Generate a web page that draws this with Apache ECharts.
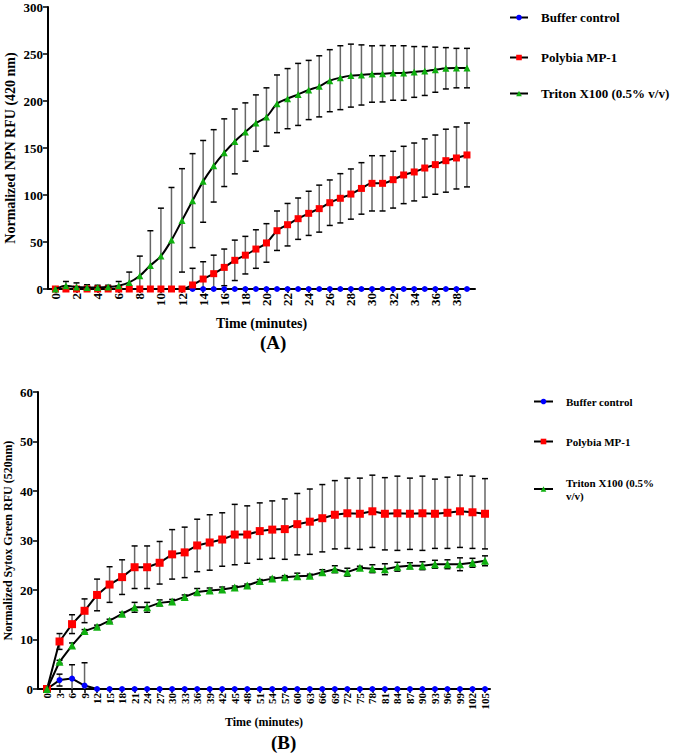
<!DOCTYPE html>
<html><head><meta charset="utf-8">
<script src="https://cdn.jsdelivr.net/npm/echarts@6/dist/echarts.min.js"></script>
<style>html,body{margin:0;padding:0;background:#fff}#c{width:685px;height:755px}</style>
</head><body><div id="c"></div>
<script>
// ---------- Panel A (NPN uptake) ----------
const timeA = [0,1,2,3,4,5,6,7,8,9,10,11,12,13,14,15,16,17,18,19,20,21,22,23,24,25,26,27,28,29,30,31,32,33,34,35,36,37,38,39];
const xTicksA = [0,2,4,6,8,10,12,14,16,18,20,22,24,26,28,30,32,34,36,38];
const bufferA = [0,0,0,0,0,0,0,0,0,0,0,0,0,0,0,0,0,0,0,0,0,0,0,0,0,0,0,0,0,0,0,0,0,0,0,0,0,0,0,0];
const bufferA_sd = [0,0,0,0,0,0,0,0,0,0,0,0,0,0,0,0,0,0,0,0,0,0,0,0,0,0,0,0,0,0,0,0,0,0,0,0,0,0,0,0];
const polybiaA = [0,0,0,0,0,0,0,0,0,0,0,0,0,4.3,10.6,16.3,23,30.5,36,42.5,49,62,68.4,74.8,80.5,85.5,91.8,96.5,101,107,112.4,112.4,116.3,121.3,124.5,128.7,132.3,136.5,139.4,142.6];
const polybiaA_sd = [0,0,0,0,0,0,0,0,0,0,0,0,0,17.7,18.4,19.7,19.5,21.5,20,20.5,20.5,21,22.6,22,23.5,25,24.2,26.2,26.7,27.4,29.4,29.4,30.2,30.5,30.8,31,31.5,33.5,33,34];
const tritonA = [0,3.5,2,1.5,1.5,2,3.5,7,14,25,35,52,73,94,114.5,131,145,157,167,176.5,183,197,202.5,207,211.7,215.6,221.6,224.8,227,227.7,228.7,229,229.8,229.8,230.9,231.9,233.3,234.8,235,235];
const tritonA_sd = [0,4.5,4.5,3,2.5,2,4.5,11,21,37,51,56,55,50,43.5,38.5,36,34.5,31,30,31,30.7,32,33,31.5,32.5,33,34,33.5,32,30,30,29,29,27,26,24,22,21,21];

// ---------- Panel B (Sytox Green uptake) ----------
const timeB = [0,3,6,9,12,15,18,21,24,27,30,33,36,39,42,45,48,51,54,57,60,63,66,69,72,75,78,81,84,87,90,93,96,99,102,105];
const xTicksB = [0,3,6,9,12,15,18,21,24,27,30,33,36,39,42,45,48,51,54,57,60,63,66,69,72,75,78,81,84,87,90,93,96,99,102,105];
const bufferB = [0,1.8,2.1,0.7,0,0,0,0,0,0,0,0,0,0,0,0,0,0,0,0,0,0,0,0,0,0,0,0,0,0,0,0,0,0,0,0];
const bufferB_sd = [0,1.2,2.8,4.6,0,0,0,0,0,0,0,0,0,0,0,0,0,0,0,0,0,0,0,0,0,0,0,0,0,0,0,0,0,0,0,0];
const polybiaB = [0,9.6,13.1,15.8,19,21.1,22.6,24.6,24.6,25.5,27.2,27.6,29,29.6,30.2,31.2,31.2,31.9,32.2,32.3,33.3,33.8,34.5,35.2,35.5,35.4,35.9,35.4,35.5,35.4,35.5,35.4,35.6,35.9,35.7,35.4];
const polybiaB_sd = [0,1.6,1.9,2.4,3.2,3.6,3.5,4.3,4.3,4.3,5.0,5.1,5.3,5.6,5.4,6.1,5.8,5.7,5.8,6.1,6.2,6.6,6.8,6.9,7.1,7.2,7.3,7.3,7.5,7.2,7.5,7.0,7.2,7.3,7.3,7.1];
const tritonB = [0,5.5,8.8,11.7,12.6,13.8,15.2,16.5,16.5,17.4,17.7,18.6,19.6,19.9,20.1,20.5,20.9,21.8,22.3,22.6,22.8,22.9,23.6,24.2,23.6,24.5,24.3,24.2,24.7,24.9,24.9,25.2,25.2,25.2,25.5,25.9];
const tritonB_sd = [0,0.3,0.5,0.3,0.3,0.3,0.3,1.0,1.0,0.6,0.4,0.4,0.7,0.5,0.5,0.3,0.3,0.3,0.3,0.3,0.6,0.3,0.5,0.7,0.8,0.3,0.8,1.1,0.9,0.6,0.8,0.8,0.9,1.3,0.9,1.0];

const names = ['Buffer control','Polybia MP-1','Triton X100 (0.5% v/v)'];
const colors = ['#0000ff','#ff0000','#10b010'];
const symbols = ['circle','rect','triangle'];
const FONT = "'Liberation Serif','Times New Roman',serif";

function errRender(params, api){
  const x = api.value(0), lo = api.value(1), hi = api.value(2);
  if (!(hi - lo > 0)) return null;
  const p1 = api.coord([x, hi]), p2 = api.coord([x, lo]);
  const w = 3;
  return {type:'group', children:[
    {type:'line', shape:{x1:p1[0],y1:p1[1],x2:p2[0],y2:p2[1]}, style:{stroke:'#666', lineWidth:1.5}},
    {type:'line', shape:{x1:p1[0]-w,y1:p1[1],x2:p1[0]+w,y2:p1[1]}, style:{stroke:'#000', lineWidth:1.5}},
    {type:'line', shape:{x1:p2[0]-w,y1:p2[1],x2:p2[0]+w,y2:p2[1]}, style:{stroke:'#000', lineWidth:1.5}}
  ]};
}

function errSeries(gi, t, v, sd){
  return {type:'custom', xAxisIndex:gi, yAxisIndex:gi, clip:true, z:1, silent:true,
    renderItem: errRender, encode:{x:0, y:[1,2]},
    data: t.map((x,i)=>[x, v[i]-sd[i], v[i]+sd[i]])};
}
function lineSeries(gi, k, t, v, smooth, sizes){
  return {type:'line', name:names[k], xAxisIndex:gi, yAxisIndex:gi, z:2+k,
    symbol:symbols[k], symbolSize:sizes[k], smooth:smooth,
    itemStyle:{color:colors[k]}, lineStyle:{color:'#000', width:2},
    data: t.map((x,i)=>[x, v[i]])};
}

const axisLineStyle = {show:true, onZero:false, lineStyle:{color:'#000', width:2}};
const tickStyle = {color:'#000', width:1.5};

function xAxisDef(gi, min, max, ticks, fs, nameFs, gap){
  return {type:'value', gridIndex:gi, min:min, max:max,
    axisLine:axisLineStyle,
    axisTick:{show:true, customValues:ticks, length:4, lineStyle:tickStyle},
    axisLabel:{customValues:ticks, rotate:90, fontSize:fs, fontWeight:'bold', fontFamily:FONT, color:'#000', margin:4},
    splitLine:{show:false},
    name:'Time (minutes)', nameLocation:'middle', nameGap:gap,
    nameTextStyle:{fontSize:nameFs, fontWeight:'bold', fontFamily:FONT, color:'#000'}};
}
function yAxisDef(gi, max, interval, name, fs, nameFs, gap){
  return {type:'value', gridIndex:gi, min:0, max:max, interval:interval,
    axisLine:axisLineStyle,
    axisTick:{show:true, length:5, lineStyle:tickStyle},
    axisLabel:{fontSize:fs, fontWeight:'bold', fontFamily:FONT, color:'#000', margin:5},
    splitLine:{show:false},
    name:name, nameLocation:'middle', nameGap:gap, nameMoveOverlap:false,
    nameTextStyle:{fontSize:nameFs, fontWeight:'bold', fontFamily:FONT, color:'#000'}};
}

function legendDef(name, left, top, fs, iw, formatter){
  const l = {data:[name], left:left, top:top, orient:'vertical', selectedMode:false,
    itemWidth:iw, itemHeight:7,
    textStyle:{fontSize:fs, fontWeight:'bold', fontFamily:FONT, color:'#000', padding:[0,0,0,8], lineHeight:fs+2}};
  if (formatter) l.formatter = formatter;
  return l;
}

const chart = echarts.init(document.getElementById('c'), null, {renderer:'svg'});
const option = {
  animation:false,
  backgroundColor:'#fff',
  grid:[
    {left:48, top:7, width:427, height:282, outerBoundsMode:'none', containLabel:false},
    {left:38, top:392, width:452, height:297, outerBoundsMode:'none', containLabel:false}
  ],
  xAxis:[
    xAxisDef(0, -0.7, 39.76, xTicksA, 13, 14, 27),
    xAxisDef(1, -2.16, 106.2, xTicksB, 11, 12, 27)
  ],
  yAxis:[
    yAxisDef(0, 300, 50, 'Normalized NPN RFU (420 nm)', 13, 14, 31),
    yAxisDef(1, 60, 10, 'Normalized Sytox Green RFU (520nm)', 13, 12, 24)
  ],
  legend:[
    legendDef(names[0], 504, 5, 13, 18),
    legendDef(names[1], 504, 45, 13, 18),
    legendDef(names[2], 504, 81, 13, 18),
    legendDef(names[0], 528, 390, 11, 19),
    legendDef(names[1], 528, 430, 11, 19),
    legendDef(names[2], 528, 471, 11, 19, function(){ return 'Triton X100 (0.5%\nv/v)'; })
  ],
  graphic:[
    {type:'text', left:260, top:333, style:{text:'(A)', font:"bold 19px 'Liberation Serif','Times New Roman',serif", fill:'#000', textAlign:'center'}},
    {type:'text', left:271, top:733, style:{text:'(B)', font:"bold 19px 'Liberation Serif','Times New Roman',serif", fill:'#000', textAlign:'center'}}
  ],
  series:[
    errSeries(0, timeA, bufferA, bufferA_sd),
    errSeries(0, timeA, polybiaA, polybiaA_sd),
    errSeries(0, timeA, tritonA, tritonA_sd),
    lineSeries(0, 0, timeA, bufferA, 0.3, [6,7,7]),
    lineSeries(0, 1, timeA, polybiaA, 0.3, [6,7,7]),
    lineSeries(0, 2, timeA, tritonA, 0.3, [6,7,7]),
    errSeries(1, timeB, bufferB, bufferB_sd),
    errSeries(1, timeB, polybiaB, polybiaB_sd),
    errSeries(1, timeB, tritonB, tritonB_sd),
    lineSeries(1, 0, timeB, bufferB, false, [6,8,8]),
    lineSeries(1, 1, timeB, polybiaB, false, [6,8,8]),
    lineSeries(1, 2, timeB, tritonB, false, [6,8,8])
  ]
};
chart.setOption(option);
</script></body></html>
